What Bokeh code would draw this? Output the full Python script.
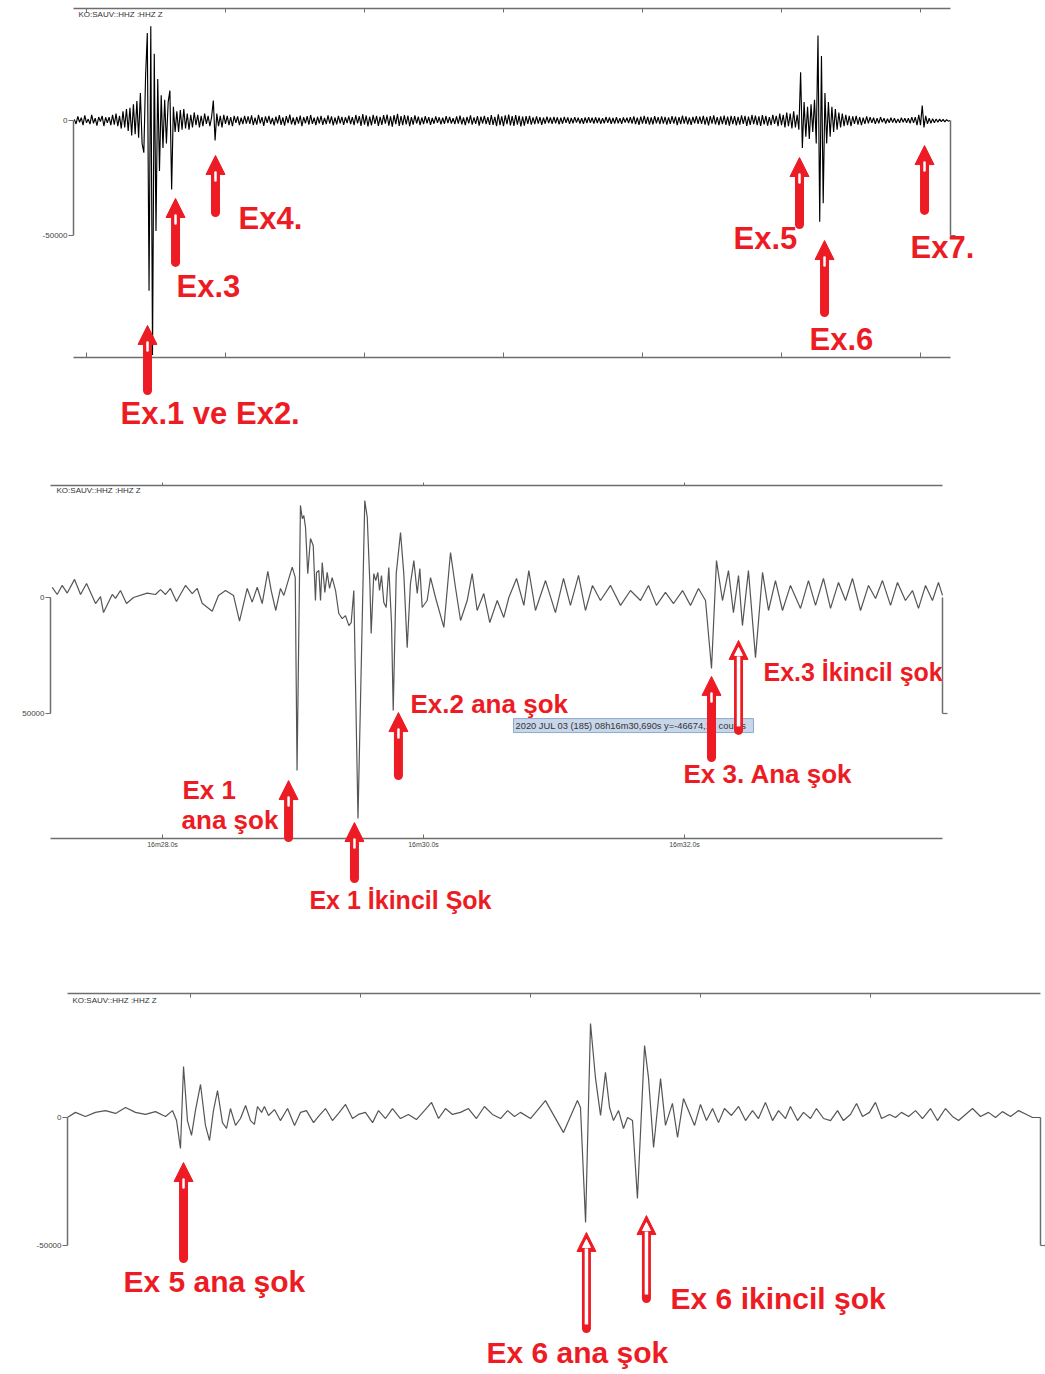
import numpy as np
from bokeh.plotting import figure
from bokeh.layouts import column
from bokeh.models import Range1d, LinearAxis, FixedTicker, Label, Arrow, NormalHead
from bokeh.embed import file_html
from bokeh.resources import INLINE

RED = "#ed1c24"
AX = "#6e6e6e"
FONT = "Liberation Sans"

# ---------------- data ----------------
# Panel 1: overview trace, sampled every 0.25 s from t=18.25 s (seconds after 08h16m00s); values in kilo-counts
p1_t0 = 18.25
p1_dt = 0.25
p1_rows = [
    [0.5, -1.5, 1.8, -0.8, 1.2, -2.0, 2.2, -1.0, 0.6, -1.6, 2.4, -1.2, 1.0, -2.2, 1.5, -0.5, 2.0, -2.4, 1.4, -1.0],
    [1.5, -2.0, 2.5, -1.8, 3.0, -2.5, 2.0, -3.5, 4.0, -3.0, 5.0, -4.5, 5.5, -6.5, 7.0, -6.0, 8.5, -7.5, 12.0, -10.0],
    [-14.0, 19.0, 38.0, -74.0, 41.0, -102.0, 29.0, -48.0, 18.0, -22.0, 11.0, -12.0, 9.0, -10.0, 8.0, 13.0, -30.0, 6.0, -5.0, 4.0],
    [-5.0, 4.5, -4.0, 5.0, -3.5, 3.0, -4.0, 2.5, -3.0, 3.5, -2.0, 2.5, -3.0, 2.0, -2.5, 3.0, -1.5, 2.0, -2.5, 1.5],
    [8.7, -8.7, 3.0, -2.5, 2.0, -3.0, 2.5, -1.5, 2.0, -2.0, 1.5, -2.5, 2.0, -1.0, 1.8, -2.0, 1.2, -1.6, 2.0, -1.4],
    [1.8, -1.5, 2.2, -2.0, 1.2, -1.8, 2.5, -1.2, 1.5, -2.3, 1.8, -1.0, 2.0, -1.6, 1.1, -2.1, 1.7, -1.3, 2.3, -1.9],
    [1.4, -2.2, 1.9, -1.1, 2.6, -1.7, 1.3, -2.0, 1.6, -1.4, 2.1, -2.5, 1.5, -1.2, 1.9, -1.8, 2.4, -1.5, 1.2, -2.0],
    [1.7, -1.3, 2.0, -1.9, 1.1, -1.6, 2.2, -1.4, 1.8, -2.1, 1.3, -1.7, 2.0, -1.2, 1.6, -1.9, 1.4, -1.1, 2.1, -1.6],
    [1.5, -2.0, 2.4, -1.3, 1.9, -2.4, 2.8, -1.8, 2.2, -2.6, 1.7, -2.1, 2.5, -1.5, 2.0, -2.3, 1.6, -1.9, 2.3, -1.4],
    [2.6, -2.2, 1.8, -2.7, 2.3, -1.6, 2.9, -2.4, 1.9, -2.0, 2.4, -1.7, 2.1, -2.5, 1.5, -1.8, 2.2, -1.3, 1.7, -2.0],
    [1.3, -1.6, 1.9, -1.2, 1.5, -1.9, 1.1, -1.4, 1.8, -1.0, 1.4, -1.7, 1.2, -1.5, 1.9, -1.1, 1.6, -1.3, 1.0, -1.6],
    [1.8, -1.4, 2.1, -1.7, 1.3, -2.0, 1.6, -1.2, 2.2, -1.8, 1.4, -1.5, 1.9, -2.2, 1.7, -1.3, 2.0, -1.6, 1.5, -1.9],
    [2.3, -1.9, 1.6, -2.4, 2.7, -2.0, 1.8, -2.5, 2.2, -1.6, 2.6, -2.1, 1.9, -2.3, 2.4, -1.8, 2.0, -2.6, 1.7, -2.2],
    [1.9, -1.5, 2.0, -1.8, 1.4, -1.6, 1.8, -1.3, 1.5, -1.9, 1.2, -1.4, 1.7, -1.1, 1.3, -1.5, 1.6, -1.2, 1.4, -1.7],
    [1.2, -1.4, 1.6, -1.0, 1.3, -1.5, 1.1, -1.2, 1.5, -0.9, 1.2, -1.3, 1.0, -1.4, 1.3, -1.1, 1.5, -1.0, 1.2, -1.3],
    [1.4, -1.1, 1.2, -1.5, 1.0, -1.2, 1.6, -1.0, 1.3, -1.4, 1.1, -1.3, 1.5, -1.2, 1.0, -1.4, 1.3, -0.9, 1.2, -1.1],
    [1.5, -1.3, 1.8, -1.6, 1.2, -1.9, 1.7, -1.4, 2.0, -1.5, 1.6, -1.8, 1.3, -1.7, 1.9, -1.2, 1.5, -1.6, 1.8, -1.4],
    [1.6, -1.8, 1.4, -1.5, 1.9, -1.3, 1.7, -2.0, 1.5, -1.6, 2.1, -1.4, 1.8, -1.7, 1.3, -1.9, 1.6, -1.2, 1.9, -1.5],
    [1.7, -1.5, 2.0, -1.8, 1.6, -2.1, 1.9, -1.4, 2.2, -1.7, 1.5, -2.0, 1.8, -1.6, 2.1, -1.9, 1.7, -2.2, 2.0, -1.6],
    [1.9, -2.1, 1.6, -1.8, 2.2, -1.5, 2.0, -2.3, 1.7, -1.9, 2.4, -1.6, 2.1, -2.0, 1.8, -2.4, 2.3, -1.7, 2.0, -2.2],
    [1.5, -2.0, 2.5, -1.5, 2.0, -2.5, 3.0, -2.0, 2.5, -3.0, 3.5, -2.5, 3.0, -3.5, 4.0, -3.0, 2.5, -4.0, 21.0, -12.0],
    [8.0, -7.0, 6.0, -8.0, 7.0, -5.0, 9.0, -10.0, 37.0, -44.0, 28.0, -36.0, 12.0, -10.0, 8.0, -7.0, 6.0, -5.0, 5.0, -4.0],
    [3.5, -3.0, 3.0, -2.5, 2.5, -2.0, 2.0, -2.5, 1.8, -1.5, 2.0, -1.8, 1.5, -2.0, 1.2, -1.5, 1.8, -1.2, 1.5, -1.0],
    [1.2, -1.5, 1.0, -1.2, 1.5, -0.8, 1.0, -1.3, 0.8, -1.0, 1.2, -0.9, 1.0, -1.1, 0.7, -1.0, 1.2, -0.8, 1.0, -1.0],
    [1.0, -1.2, 1.5, -1.0, 1.5, -2.0, 2.5, -2.0, 6.5, -3.0, 2.0, -1.5, 1.0, -1.2, 0.8, -1.0, 0.7, -0.8, 0.6, -0.5],
    [0.5, -0.6, 0.4, -0.3, 0.0],
]

# Panel 2: zoom on Ex1-Ex3, (time s after 08h16m00s, kilo-counts)
p2_samples = [
    (27.155, 4.4), (27.193, 1.3), (27.231, 5.2), (27.270, 1.9), (27.326, 7.8), (27.372, 1.3),
    (27.418, 6.0), (27.487, -2.6), (27.525, 0.4), (27.548, -6.5), (27.615, 1.3), (27.640, -0.4),
    (27.678, 3.0), (27.724, -2.6), (27.778, 0.0), (27.883, 1.9), (27.946, 1.3), (27.985, 3.4),
    (28.023, 1.3), (28.061, 3.9), (28.107, -1.7), (28.176, 5.2), (28.228, 1.7), (28.266, 3.9),
    (28.304, -2.5), (28.381, -5.9), (28.429, 0.9), (28.483, 3.0), (28.544, 0.9), (28.590, -10.2),
    (28.649, 3.9), (28.687, -2.0), (28.726, 4.4), (28.764, -2.6), (28.807, 11.3), (28.833, 3.0),
    (28.868, -5.6), (28.904, 3.9), (28.930, 0.9), (28.994, 13.1), (29.017, 8.7), (29.031, -74.6),
    (29.057, 39.7), (29.071, 34.0), (29.083, 35.3), (29.096, 30.2), (29.113, 10.3), (29.134, 25.4),
    (29.155, 22.4), (29.172, -1.3), (29.180, 10.8), (29.198, 11.6), (29.211, -1.3), (29.224, 15.1),
    (29.244, 2.2), (29.262, 10.8), (29.280, 3.9), (29.300, 8.6), (29.326, 3.0), (29.351, -6.9),
    (29.377, -9.1), (29.402, -7.8), (29.428, -12.1), (29.446, -10.8), (29.466, 3.0), (29.498, -95.3),
    (29.550, 41.8), (29.569, 34.5), (29.589, 6.0), (29.599, -15.5), (29.619, 10.3), (29.634, 7.3),
    (29.650, 10.8), (29.663, 3.0), (29.678, 9.5), (29.696, -2.2), (29.714, -4.3), (29.734, 12.9),
    (29.755, -11.2), (29.768, -48.7), (29.791, 10.3), (29.824, 28.0), (29.849, 10.3), (29.875, -21.6),
    (29.900, 6.0), (29.926, 15.9), (29.952, 1.7), (29.972, 12.5), (29.990, -4.3), (30.028, -1.3),
    (30.054, 8.6), (30.092, 0.0), (30.156, -12.9), (30.207, 19.4), (30.245, 4.3), (30.284, -9.9),
    (30.335, -1.3), (30.373, 10.3), (30.411, -5.6), (30.462, 1.7), (30.508, -10.8), (30.565, -1.3),
    (30.615, -8.6), (30.654, 0.0), (30.713, 8.2), (30.769, -3.4), (30.807, 11.6), (30.858, -5.6),
    (30.935, 7.3), (31.011, -6.5), (31.073, 8.2), (31.126, -3.4), (31.188, 9.5), (31.241, -5.6),
    (31.295, 5.2), (31.356, -1.3), (31.433, 5.2), (31.510, -3.4), (31.586, 3.0), (31.663, -1.3),
    (31.724, 5.2), (31.785, -3.4), (31.854, 2.2), (31.916, -2.6), (31.985, 3.0), (32.046, -3.4),
    (32.107, 3.9), (32.161, -1.3), (32.207, -30.6), (32.245, 15.9), (32.291, -1.3), (32.337, 11.6),
    (32.375, -6.5), (32.414, 9.5), (32.444, -12.1), (32.490, 11.6), (32.544, -25.9), (32.598, 10.8),
    (32.644, -5.6), (32.697, 7.3), (32.751, -5.6), (32.812, 5.2), (32.889, -4.7), (32.950, 7.3),
    (33.004, -3.4), (33.065, 8.2), (33.119, -4.7), (33.180, 6.5), (33.234, -1.3), (33.287, 8.2),
    (33.349, -5.6), (33.410, 5.2), (33.464, -0.4), (33.517, 7.3), (33.579, -3.4), (33.632, 6.5),
    (33.693, -1.3), (33.747, 3.0), (33.793, -4.7), (33.847, 5.2), (33.900, -1.3), (33.946, 6.5),
    (33.977, 0.9),
]

# Panel 3: zoom on Ex5-Ex6, (time s after 08h16m00s, kilo-counts)
p3_samples = [
    (122.276, 0.0), (122.323, 2.0), (122.382, 0.4), (122.441, 2.0), (122.500, 2.7), (122.559, 1.6),
    (122.618, 3.9), (122.676, 2.0), (122.735, 1.2), (122.794, 2.3), (122.853, 0.4), (122.894, 2.7),
    (122.918, -1.2), (122.941, -12.1), (122.959, 19.9), (122.982, -1.2), (123.006, -7.0), (123.029, 2.7),
    (123.059, 12.9), (123.088, -3.1), (123.112, -9.0), (123.135, 2.7), (123.159, 10.5), (123.188, -2.0),
    (123.212, -4.3), (123.235, 3.5), (123.265, -3.1), (123.294, -0.4), (123.324, 4.7), (123.353, -1.2),
    (123.376, -2.7), (123.394, 4.3), (123.418, 2.0), (123.435, 4.3), (123.459, 0.8), (123.494, 3.1),
    (123.529, -1.2), (123.571, 3.5), (123.612, -3.1), (123.647, 2.0), (123.682, 2.7), (123.724, -2.0),
    (123.753, 0.4), (123.794, 3.5), (123.835, -1.2), (123.871, 1.6), (123.912, 5.1), (123.953, -0.4),
    (123.988, 1.2), (124.029, 2.0), (124.071, -2.0), (124.106, 2.7), (124.147, -0.4), (124.188, 3.5),
    (124.235, -0.4), (124.282, 1.2), (124.329, -0.8), (124.376, 2.7), (124.418, 5.9), (124.459, -0.4),
    (124.500, 3.5), (124.541, 1.2), (124.588, 2.0), (124.635, 3.5), (124.682, -0.4), (124.729, 4.3),
    (124.776, 1.2), (124.824, -0.4), (124.865, 2.7), (124.906, 0.4), (124.941, 2.0), (125.000, -0.4),
    (125.088, 6.6), (125.194, -5.9), (125.276, 6.6), (125.294, 3.9), (125.324, -41.0), (125.353, 36.7),
    (125.382, 15.6), (125.412, 0.8), (125.441, 17.6), (125.465, 3.9), (125.488, -1.2), (125.518, 2.7),
    (125.547, -4.3), (125.571, 0.0), (125.600, -1.2), (125.629, -31.6), (125.671, 28.1), (125.694, 15.6),
    (125.724, -11.7), (125.765, 15.2), (125.794, -3.1), (125.835, 5.5), (125.865, -7.8), (125.900, 7.4),
    (125.929, 2.7), (125.965, -3.1), (126.000, 5.1), (126.035, -1.2), (126.071, 3.5), (126.106, -2.0),
    (126.141, 3.5), (126.182, 0.8), (126.224, 4.3), (126.265, -1.2), (126.306, 2.7), (126.341, -0.4),
    (126.382, 5.9), (126.424, -1.2), (126.459, 2.7), (126.500, -0.4), (126.529, 4.3), (126.571, -1.2),
    (126.606, 2.0), (126.647, -0.4), (126.682, 3.5), (126.724, -0.4), (126.765, -1.2), (126.806, 2.7),
    (126.841, -1.2), (126.882, 1.2), (126.918, 5.5), (126.953, 0.4), (126.994, 2.0), (127.029, 5.9),
    (127.065, -0.4), (127.112, 1.2), (127.147, 0.0), (127.182, 2.0), (127.224, 0.4), (127.265, 2.7),
    (127.306, -0.4), (127.353, 3.5), (127.394, -1.2), (127.441, 3.5), (127.482, 0.4), (127.518, -1.2),
    (127.559, 1.2), (127.600, 3.5), (127.647, 0.4), (127.694, 2.0), (127.735, 0.0), (127.776, 2.3),
    (127.824, 0.4), (127.871, 2.7), (127.918, 1.2), (127.953, 0.0), (128.000, 0.0),
]

p2_tick_times = [28, 30, 32]
p2_tick_labels = ["16m28.0s", "16m30.0s", "16m32.0s"]
station = "KO:SAUV::HHZ   :HHZ Z"

# ---------------- helpers ----------------
W = 1045


def make_fig(xr, yr, h):
    p = figure(x_range=Range1d(*xr), y_range=Range1d(*yr), frame_width=W, frame_height=h,
               min_border=0, x_axis_type=None, y_axis_type=None, output_backend="svg",
               toolbar_location=None, background_fill_color="white", border_fill_color="white")
    p.outline_line_color = None
    p.xgrid.visible = False
    p.ygrid.visible = False
    return p


def h_axis(p, loc, yloc, xb, ticks, tin, tout, labels=None):
    ax = LinearAxis(fixed_location=yloc, bounds=xb, ticker=FixedTicker(ticks=ticks),
                    axis_line_color=AX, axis_line_width=1.5, major_tick_line_color=AX,
                    major_tick_line_width=1, major_tick_in=tin, major_tick_out=tout,
                    minor_tick_line_color=None)
    if labels:
        ax.major_label_overrides = labels
        ax.major_label_text_font_size = "7px"
        ax.major_label_text_color = "#444444"
        ax.major_label_text_font = FONT
        ax.major_label_standoff = 2
    else:
        ax.major_label_text_color = None
    p.add_layout(ax, loc)


def v_bracket(p, loc, xloc, ticks, labels=None):
    ax = LinearAxis(fixed_location=xloc, bounds=(-50000, 0), ticker=FixedTicker(ticks=ticks),
                    axis_line_color=AX, axis_line_width=1.5, major_tick_line_color=AX,
                    major_tick_line_width=1.2, major_tick_in=0, major_tick_out=5,
                    minor_tick_line_color=None)
    if labels:
        ax.major_label_overrides = labels
        ax.major_label_text_font_size = "8px"
        ax.major_label_text_color = "#444444"
        ax.major_label_text_font = FONT
        ax.major_label_standoff = 1
    else:
        ax.major_label_text_color = None
    p.add_layout(ax, loc)


def up_arrow(p, x, y_tip, y_tail, cpp, hollow=False):
    # cpp: counts per screen pixel of the panel
    p.add_layout(Arrow(x_start=x, y_start=y_tail, x_end=x, y_end=y_tip - 12 * cpp, end=None,
                       line_color=RED, line_width=9, line_cap="round"))
    p.add_layout(Arrow(x_start=x, y_start=y_tip - 3 * cpp, x_end=x, y_end=y_tip, line_alpha=0,
                       end=NormalHead(size=19, fill_color=RED, line_color=RED, line_width=1)))
    if hollow:
        p.add_layout(Arrow(x_start=x, y_start=y_tail + 4 * cpp, x_end=x, y_end=y_tip - 16 * cpp, end=None,
                           line_color="white", line_width=3.5))
        p.add_layout(Arrow(x_start=x, y_start=y_tip - 12 * cpp, x_end=x, y_end=y_tip - 7 * cpp, line_alpha=0,
                           end=NormalHead(size=8, fill_color="white", line_color="white", line_width=1)))
    else:
        p.add_layout(Arrow(x_start=x, y_start=y_tip - 25 * cpp, x_end=x, y_end=y_tip - 17 * cpp, end=None,
                           line_color="white", line_width=2.5, line_cap="round"))


def red_text(p, x, y, text, size):
    p.add_layout(Label(x=x, y=y, text=text, text_font=FONT, text_font_style="bold",
                       text_font_size=size, text_color=RED, text_baseline="middle", text_align="left"))


def small_text(p, x, y, text):
    p.add_layout(Label(x=x, y=y, text=text, text_font=FONT, text_font_size="8px",
                       text_color="#333333", text_baseline="middle"))

# ---------------- panel 1 ----------------
p1_k = np.array([v for row in p1_rows for v in row])
p1_t = p1_t0 + p1_dt * np.arange(len(p1_k))
p1 = make_fig((7.626, 157.986), (-152174, 52174), 470)
p1.line(p1_t, p1_k * 1000, line_color="black", line_width=1.15)
p1_ticks = [20, 40, 60, 80, 100, 120, 140]
h_axis(p1, "above", 48696, (18.13, 144.32), p1_ticks, 4, 0)
h_axis(p1, "below", -103048, (18.13, 144.32), p1_ticks, 5, 0)
v_bracket(p1, "left", 18.13, [-50000, 0], {-50000: "-50000", 0: "0"})
v_bracket(p1, "right", 144.32, [-50000])
small_text(p1, 18.85, 46100, station)
cpp1 = 434.8
up_arrow(p1, 28.78, -89100, -117400, cpp1)
red_text(p1, 24.89, -127400, "Ex.1 ve Ex2.", "31px")
up_arrow(p1, 32.81, -33900, -61700, cpp1)
red_text(p1, 32.95, -72200, "Ex.3", "31px")
up_arrow(p1, 38.56, -15200, -40000, cpp1)
red_text(p1, 41.87, -42600, "Ex4.", "31px")
up_arrow(p1, 122.59, -16100, -45200, cpp1)
red_text(p1, 113.09, -51300, "Ex.5", "31px")
up_arrow(p1, 126.19, -52200, -83500, cpp1)
red_text(p1, 124.03, -95200, "Ex.6", "31px")
up_arrow(p1, 140.58, -10900, -39100, cpp1)
red_text(p1, 138.56, -55200, "Ex7.", "31px")

# ---------------- panel 2 ----------------
p2_t = [a for a, b in p2_samples]
p2_k = np.array([b for a, b in p2_samples])
p2 = make_fig((26.7586, 34.7663), (-158619, 54741), 495)
p2.line(p2_t, p2_k * 1000, line_color="#555555", line_width=1.2)
h_axis(p2, "above", 48276, (27.1418, 33.977), p2_tick_times, 0, 3)
h_axis(p2, "below", -103879, (27.1418, 33.977), p2_tick_times, 4, 0,
       dict(zip(p2_tick_times, p2_tick_labels)))
v_bracket(p2, "left", 27.1418, [-50000, 0], {-50000: "50000", 0: "0"})
v_bracket(p2, "right", 33.977, [-50000])
small_text(p2, 27.188, 46100, station)
p2.add_layout(Label(x=30.690, y=-55200, text="2020 JUL 03 (185)  08h16m30,690s  y=-46674,14 counts",
                    text_font=FONT, text_font_size="9.3px", text_color="#333333", text_baseline="middle",
                    background_fill_color="#c8d6ea", border_line_color="#8ca8cf", padding=2))
cpp2 = 431.0
up_arrow(p2, 28.966, -78900, -103500, cpp2)
red_text(p2, 28.153, -82800, "Ex 1", "26px")
red_text(p2, 28.146, -95700, "ana şok", "26px")
up_arrow(p2, 29.471, -97000, -121100, cpp2)
red_text(p2, 29.126, -130200, "Ex 1 İkincil Şok", "25px")
up_arrow(p2, 29.808, -49600, -76700, cpp2)
red_text(p2, 29.900, -45700, "Ex.2 ana şok", "26px")
up_arrow(p2, 32.207, -34000, -69000, cpp2)
red_text(p2, 31.992, -75900, "Ex 3. Ana şok", "26px")
up_arrow(p2, 32.414, -18500, -57300, cpp2, hollow=True)
red_text(p2, 32.605, -32300, "Ex.3 İkincil şok", "25px")

# ---------------- panel 3 ----------------
p3_t = [a for a, b in p3_samples]
p3_k = np.array([b for a, b in p3_samples])
p3 = make_fig((121.8824, 128.0294), (-100384, 59371), 409)
p3.line(p3_t, p3_k * 1000, line_color="#555555", line_width=1.2)
h_axis(p3, "above", 48434, (122.2765, 128.0), [123, 124, 125, 126, 127], 4, 0)
v_bracket(p3, "left", 122.2765, [-50000, 0], {-50000: "-50000", 0: "0"})
v_bracket(p3, "right", 128.0, [-50000])
small_text(p3, 122.306, 45700, station)
cpp3 = 390.6
up_arrow(p3, 122.959, -17600, -55100, cpp3)
red_text(p3, 122.606, -64100, "Ex 5 ana şok", "30px")
up_arrow(p3, 125.329, -44900, -82400, cpp3, hollow=True)
red_text(p3, 124.741, -91800, "Ex 6 ana şok", "30px")
up_arrow(p3, 125.682, -38300, -70700, cpp3, hollow=True)
red_text(p3, 125.824, -70700, "Ex 6 ikincil şok", "30px")

layout = column(p1, p2, p3)
open("out.html", "w").write(file_html(layout, INLINE))
